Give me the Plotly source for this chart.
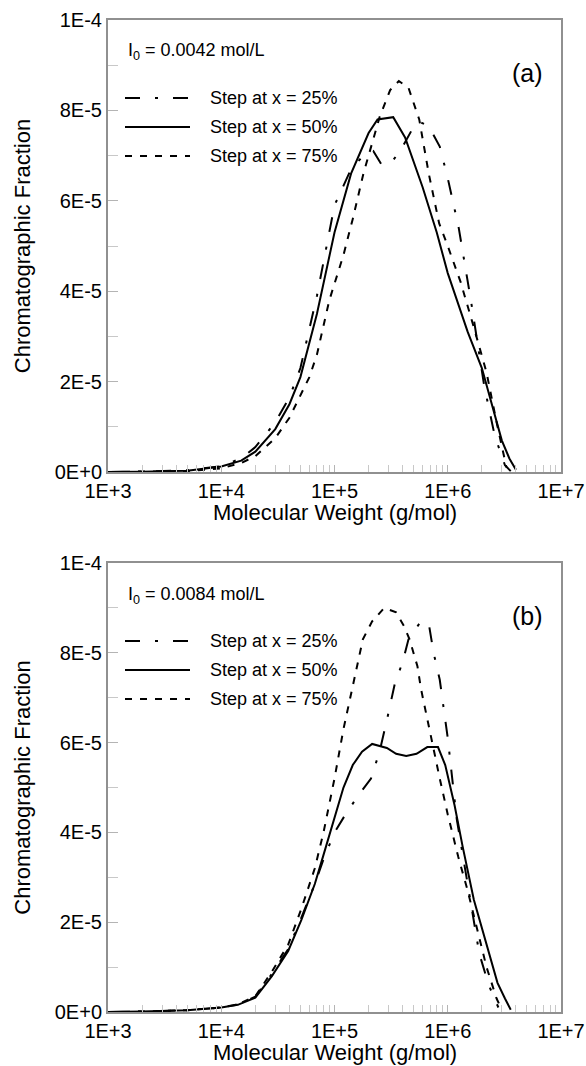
import plotly.graph_objects as go
from plotly.subplots import make_subplots

# ---- Panel (a): I0 = 0.0042 mol/L ----
a25_mw = [1e3, 2e3, 5e3, 1e4, 1.5e4, 2e4, 3e4, 4e4, 5e4, 7e4, 1e5, 1.4e5, 1.8e5, 2.2e5, 2.6e5,
          3.2e5, 4e5, 4.9e5, 5.6e5, 6.8e5, 8.5e5, 1e6, 1.25e6, 1.6e6, 2.1e6, 2.6e6, 3.2e6, 3.6e6]
a25_fr = [0, 0.01, 0.04, 0.13, 0.3, 0.55, 1.1, 1.65, 2.3, 3.9, 5.9, 6.7, 7.0, 7.1, 6.8,
          6.85, 7.2, 7.6, 7.75, 7.65, 7.2, 6.5, 5.4, 3.8, 1.9, 0.8, 0.15, 0.02]

a50_mw = [1e3, 2e3, 5e3, 1e4, 1.5e4, 2e4, 3e4, 4e4, 5e4, 7e4, 1e5, 1.4e5, 2e5, 2.4e5, 3.3e5,
          4.2e5, 6e5, 8e5, 1e6, 1.5e6, 2e6, 2.5e6, 3e6, 3.5e6, 4e6]
a50_fr = [0, 0.005, 0.03, 0.12, 0.25, 0.45, 0.95, 1.5, 2.1, 3.5, 5.3, 6.6, 7.5, 7.8, 7.85,
          7.4, 6.3, 5.3, 4.4, 3.1, 2.3, 1.4, 0.7, 0.3, 0.05]

a75_mw = [1e3, 2e3, 5e3, 1e4, 1.5e4, 2e4, 3e4, 4e4, 5e4, 6e4, 7e4, 9e4, 1.2e5, 1.45e5, 1.8e5,
          2.5e5, 3.1e5, 3.7e5, 4.5e5, 5.6e5, 6.8e5, 8.4e5, 1e6, 1.3e6, 1.7e6, 2.2e6, 2.7e6, 3.3e6]
a75_fr = [0, 0.005, 0.02, 0.08, 0.2, 0.35, 0.75, 1.2, 1.7, 2.1, 2.6, 3.8, 4.8, 5.6, 6.6,
          7.85, 8.45, 8.65, 8.5, 7.8, 6.6, 5.5, 5.0, 4.2, 3.2, 2.2, 1.1, 0.1]

# ---- Panel (b): I0 = 0.0084 mol/L ----
b25_mw = [1e3, 2e3, 5e3, 1e4, 1.4e4, 2e4, 2.8e4, 3.9e4, 5.1e4, 6.7e4, 8e4, 1e5, 1.25e5, 1.6e5,
          2.1e5, 2.5e5, 2.9e5, 3.4e5, 4e5, 4.5e5, 5.1e5, 5.8e5, 6.8e5, 7.5e5, 8.5e5, 1e6, 1.2e6,
          1.5e6, 1.9e6, 2.3e6, 2.8e6]
b25_fr = [0, 0.01, 0.04, 0.1, 0.17, 0.34, 0.85, 1.4, 2.1, 2.85, 3.4, 4.0, 4.4, 4.8,
          5.2, 5.8, 6.5, 7.3, 7.8, 8.3, 8.5, 8.7, 8.65, 8.0, 7.4, 6.1, 4.3,
          2.8, 1.3, 0.6, 0.1]

b50_mw = [1e3, 2e3, 5e3, 1e4, 1.4e4, 2e4, 2.8e4, 3.9e4, 5.1e4, 6.7e4, 8e4, 1e5, 1.2e5, 1.45e5,
          1.75e5, 2.15e5, 2.9e5, 3.5e5, 4.3e5, 5.3e5, 6.6e5, 8.2e5, 9.5e5, 1.15e6, 1.35e6, 1.7e6,
          2.25e6, 2.75e6, 3.2e6, 3.6e6]
b50_fr = [0, 0.01, 0.04, 0.1, 0.16, 0.32, 0.8, 1.36, 2.05, 2.85, 3.5, 4.3, 5.0, 5.5,
          5.8, 5.97, 5.88, 5.75, 5.7, 5.75, 5.9, 5.9, 5.5, 4.6, 3.7, 2.5,
          1.4, 0.65, 0.3, 0.05]

b75_mw = [1e3, 2e3, 5e3, 1e4, 1.4e4, 2e4, 2.8e4, 3.9e4, 5.1e4, 6.7e4, 8e4, 1e5, 1.2e5, 1.35e5,
          1.5e5, 1.78e5, 2.15e5, 2.75e5, 3.5e5, 4.1e5, 4.6e5, 5.4e5, 5.8e5, 7e5, 8.5e5, 1e6,
          1.24e6, 1.5e6, 1.8e6, 2.2e6, 2.7e6, 3e6]
b75_fr = [0, 0.01, 0.04, 0.1, 0.17, 0.35, 0.9, 1.5, 2.3, 3.2, 4.0, 5.2, 6.3, 6.9,
          7.5, 8.3, 8.7, 9.0, 8.9, 8.6, 8.3, 7.7, 7.2, 6.2, 5.2, 4.4,
          3.45, 2.7, 1.9, 1.0, 0.3, 0.05]

FR_SCALE = 1e-5  # fractions above are in units of 1E-5

series_labels = ["Step at x = 25%", "Step at x = 50%", "Step at x = 75%"]
panel_tags = ["(a)", "(b)"]
initiator_labels = ["I<sub>0</sub> = 0.0042 mol/L", "I<sub>0</sub> = 0.0084 mol/L"]

x_tickvals = [1e3, 1e4, 1e5, 1e6, 1e7]
x_ticktext = ["1E+3", "1E+4", "1E+5", "1E+6", "1E+7"]
y_tickvals = [0, 2e-5, 4e-5, 6e-5, 8e-5, 1e-4]
y_ticktext = ["0E+0", "2E-5", "4E-5", "6E-5", "8E-5", "1E-4"]

DASHES = ["15px,15px,3px,15px", "solid", "7px,8px"]
FONT = "Liberation Sans, Arial, sans-serif"
AXIS_GRAY = "#909090"
TICK_GRAY = "#b4b4b4"

W, H = 586, 1066
ML, MR, MT, MB = 108, 25, 20, 54
plot_w = W - ML - MR
plot_h = H - MT - MB

def px_x(px):
    return (px - ML) / plot_w

def px_y(py):
    return (H - MB - py) / plot_h

# panel pixel extents (top, bottom)
panels = [(20, 472), (563, 1012)]

fig = make_subplots(rows=2, cols=1)

data = [
    [(a25_mw, a25_fr), (a50_mw, a50_fr), (a75_mw, a75_fr)],
    [(b25_mw, b25_fr), (b50_mw, b50_fr), (b75_mw, b75_fr)],
]

for r, group in enumerate(data, start=1):
    for (mw, fr), dash, name in zip(group, DASHES, series_labels):
        fig.add_trace(go.Scatter(
            x=mw, y=[v * FR_SCALE for v in fr], mode="lines", name=name,
            line=dict(color="black", width=2, dash=dash), showlegend=False),
            row=r, col=1)

minor_x = [m * 10 ** d for d in range(3, 7) for m in range(2, 10)]

for i, (top, bot) in enumerate(panels, start=1):
    xa = "xaxis" if i == 1 else f"xaxis{i}"
    ya = "yaxis" if i == 1 else f"yaxis{i}"
    fig.layout[ya].domain = [px_y(bot), px_y(top)]
    fig.layout[xa].update(
        type="log", range=[3, 7], tickvals=x_tickvals, ticktext=x_ticktext,
        ticks="inside", ticklen=7, tickcolor=TICK_GRAY, tickwidth=1,
        minor=dict(tickvals=minor_x, ticks="inside", ticklen=7, tickcolor="#c8c8c8"),
        showgrid=False, zeroline=False, showline=True, mirror=True,
        linecolor=AXIS_GRAY, linewidth=2, automargin=False,
        tickfont=dict(family=FONT, size=20, color="black"),
    )
    fig.layout[ya].update(
        range=[0, 1e-4], tickvals=y_tickvals, ticktext=y_ticktext,
        ticks="inside", ticklen=10, tickcolor=TICK_GRAY,
        minor=dict(dtick=1e-5, tick0=0, ticks="inside", ticklen=10, tickcolor="#c8c8c8"),
        showgrid=False, zeroline=False, showline=True, mirror=True,
        linecolor=AXIS_GRAY, linewidth=2, automargin=False,
        tickfont=dict(family=FONT, size=20, color="black"),
        title=dict(text="Chromatographic Fraction", standoff=18,
                   font=dict(family=FONT, size=22, color="black")),
    )

    # x-axis title placed just under the tick labels
    fig.add_annotation(x=0.5, y=px_y(bot + 40), xref="paper", yref="paper",
                       text="Molecular Weight (g/mol)", showarrow=False,
                       xanchor="center", yanchor="middle",
                       font=dict(family=FONT, size=22, color="black"))

    # panel label, initiator concentration and line key
    fig.add_annotation(x=px_x(126), y=px_y(top + 32), xref="paper", yref="paper",
                       text=initiator_labels[i - 1], showarrow=False, xanchor="left",
                       yanchor="middle", font=dict(family=FONT, size=18, color="black"))
    fig.add_annotation(x=px_x(545), y=px_y(top + 53), xref="paper", yref="paper",
                       text=panel_tags[i - 1], showarrow=False, xanchor="right",
                       yanchor="middle", font=dict(family=FONT, size=25, color="black"))
    for k, (dash, name) in enumerate(zip(DASHES, series_labels)):
        yy = px_y(top + 78 + 29 * k)
        fig.add_shape(type="line", xref="paper", yref="paper",
                      x0=px_x(125), x1=px_x(190), y0=yy, y1=yy,
                      line=dict(color="black", width=2, dash=dash))
        fig.add_annotation(x=px_x(208), y=yy, xref="paper", yref="paper",
                           text=name, showarrow=False, xanchor="left", yanchor="middle",
                           font=dict(family=FONT, size=18, color="black"))

fig.update_layout(
    width=W, height=H, margin=dict(l=ML, r=MR, t=MT, b=MB, autoexpand=False),
    plot_bgcolor="white", paper_bgcolor="white",
    font=dict(family=FONT, color="black"), showlegend=False,
)

fig.write_html("out.html")
